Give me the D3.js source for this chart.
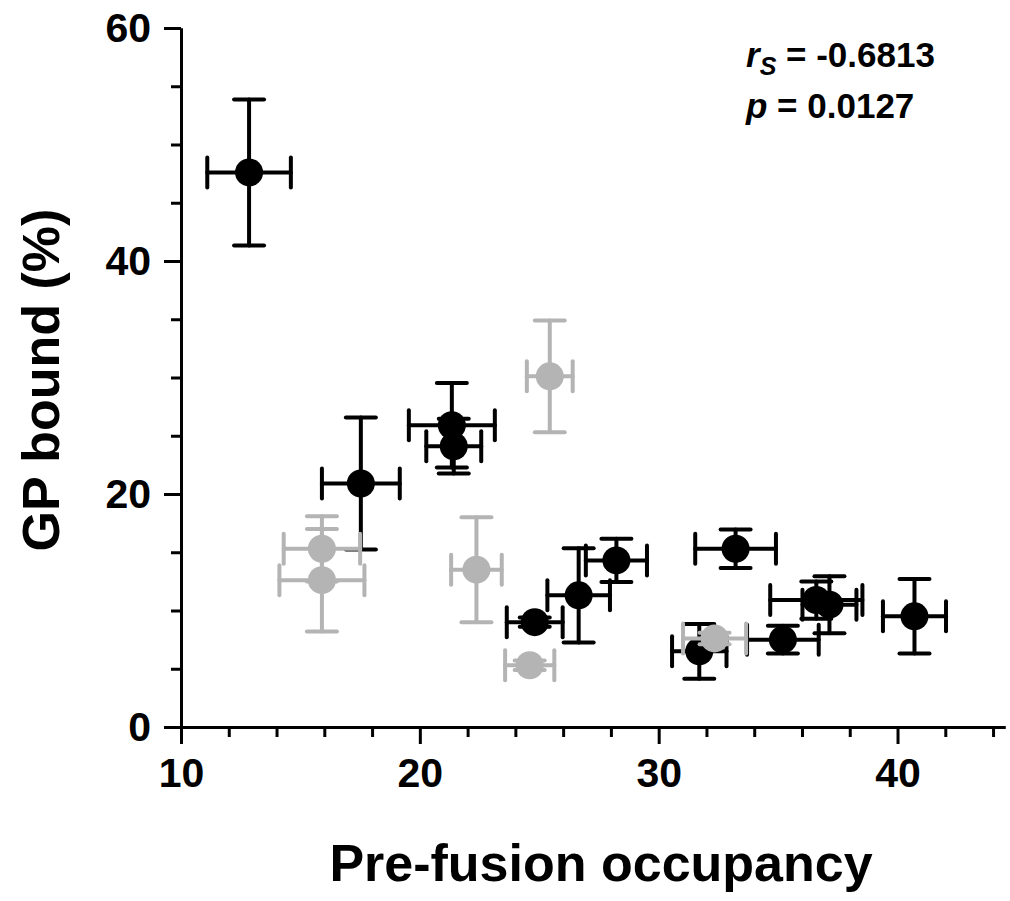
<!DOCTYPE html>
<html>
<head>
<meta charset="utf-8">
<script src="https://cdn.jsdelivr.net/npm/d3@7"></script>
<style>
  body { margin: 0; background: #fff; }
  text { font-family: "Liberation Sans", Arial, sans-serif; font-weight: bold; }
</style>
</head>
<body>
<script>
// data
var blackX    = [12.85, 17.53, 21.34, 21.42, 24.81, 26.65, 28.23, 31.70, 33.22, 35.20, 36.60, 37.15, 40.71];
var blackY    = [47.6, 20.9, 25.9, 24.1, 9.0, 11.3, 14.3, 6.5, 15.3, 7.5, 10.9, 10.5, 9.5];
var blackXErr = [1.75, 1.63, 1.80, 1.15, 1.17, 1.31, 1.28, 1.14, 1.69, 1.50, 1.93, 1.13, 1.32];
var blackYErr = [6.27, 5.67, 3.63, 2.35, 0.4, 4.05, 1.85, 2.35, 1.65, 1.2, 1.6, 2.45, 3.2];

var grayX    = [15.90, 15.90, 22.37, 24.60, 25.44, 32.34];
var grayY    = [15.3, 12.6, 13.5, 5.3, 30.1, 7.6];
var grayXErr = [1.6, 1.78, 1.06, 1.03, 0.96, 1.32];
var grayYErr = [2.8, 4.4, 4.5, 0.4, 4.8, 0.5];

var xMajor = [10, 20, 30, 40];
var xMinor = [12, 14, 16, 18, 22, 24, 26, 28, 32, 34, 36, 38, 42, 44];
var yMajor = [0, 20, 40, 60];
var yMinor = [5, 10, 15, 25, 30, 35, 45, 50, 55];

var width = 1010, height = 901;

var svg = d3.select("body").append("svg")
    .attr("width", width)
    .attr("height", height);

var x = d3.scaleLinear().domain([10, 44.5]).range([181, 1005]);
var y = d3.scaleLinear().domain([0, 60]).range([727, 28]);

//axes
function styleAxis(g) {
  g.select(".domain").attr("stroke", "#000").attr("stroke-width", 3);
  g.selectAll(".tick line").attr("stroke", "#000").attr("stroke-width", 3);
  g.selectAll(".tick text").attr("fill", "#000").style("font-size", "41px");
}

svg.append("g")
    .attr("transform", "translate(0,727)")
    .call(d3.axisBottom(x).tickValues(xMinor).tickSize(10).tickFormat("").tickSizeOuter(0))
    .call(styleAxis);
svg.append("g")
    .attr("transform", "translate(0,727)")
    .call(d3.axisBottom(x).tickValues(xMajor).tickSize(17).tickPadding(14).tickFormat(d3.format("d")).tickSizeOuter(0))
    .call(styleAxis);

svg.append("g")
    .attr("transform", "translate(181,0)")
    .call(d3.axisLeft(y).tickValues(yMinor).tickSize(10).tickFormat("").tickSizeOuter(0))
    .call(styleAxis);
svg.append("g")
    .attr("transform", "translate(181,0)")
    .call(d3.axisLeft(y).tickValues(yMajor).tickSize(17).tickPadding(13).tickFormat(d3.format("d")).tickSizeOuter(0))
    .call(styleAxis);

//axis titles
svg.append("text")
    .attr("x", 601).attr("y", 881)
    .attr("text-anchor", "middle")
    .style("font-size", "52px")
    .text("Pre-fusion occupancy");

svg.append("text")
    .attr("transform", "translate(59,380) rotate(-90)")
    .attr("text-anchor", "middle")
    .style("font-size", "52px")
    .text("GP bound (%)");

//stats
var stat1 = svg.append("text").attr("x", 746).attr("y", 67).style("font-size", "35px");
stat1.append("tspan").style("font-style", "italic").text("r");
stat1.append("tspan").style("font-style", "italic").style("font-size", "25px").attr("dy", 8).text("S");
stat1.append("tspan").attr("dy", -8).text(" = -0.6813");

var stat2 = svg.append("text").attr("x", 746).attr("y", 118).style("font-size", "35px");
stat2.append("tspan").style("font-style", "italic").text("p");
stat2.append("tspan").text(" = 0.0127");

//points with error bars
function makePoints(xs, ys, xe, ye, color) {
  return xs.map(function (d, i) {
    return { x: d, y: ys[i], xe: xe[i], ye: ye[i], color: color };
  });
}

var points = makePoints(blackX, blackY, blackXErr, blackYErr, "#000")
  .concat(makePoints(grayX, grayY, grayXErr, grayYErr, "#b4b4b4"));

var cap = 15;

var pt = svg.append("g").selectAll("g")
    .data(points)
    .enter()
    .append("g")
    .attr("stroke", function (d) { return d.color })
    .attr("fill", function (d) { return d.color })
    .attr("stroke-width", 4)
    .attr("stroke-linecap", "round");

pt.append("line")
    .attr("x1", function (d) { return x(d.x) }).attr("x2", function (d) { return x(d.x) })
    .attr("y1", function (d) { return y(d.y + d.ye) }).attr("y2", function (d) { return y(d.y - d.ye) });
pt.append("line")
    .attr("x1", function (d) { return x(d.x) - cap }).attr("x2", function (d) { return x(d.x) + cap })
    .attr("y1", function (d) { return y(d.y + d.ye) }).attr("y2", function (d) { return y(d.y + d.ye) });
pt.append("line")
    .attr("x1", function (d) { return x(d.x) - cap }).attr("x2", function (d) { return x(d.x) + cap })
    .attr("y1", function (d) { return y(d.y - d.ye) }).attr("y2", function (d) { return y(d.y - d.ye) });

pt.append("line")
    .attr("x1", function (d) { return x(d.x - d.xe) }).attr("x2", function (d) { return x(d.x + d.xe) })
    .attr("y1", function (d) { return y(d.y) }).attr("y2", function (d) { return y(d.y) });
pt.append("line")
    .attr("x1", function (d) { return x(d.x - d.xe) }).attr("x2", function (d) { return x(d.x - d.xe) })
    .attr("y1", function (d) { return y(d.y) - cap }).attr("y2", function (d) { return y(d.y) + cap });
pt.append("line")
    .attr("x1", function (d) { return x(d.x + d.xe) }).attr("x2", function (d) { return x(d.x + d.xe) })
    .attr("y1", function (d) { return y(d.y) - cap }).attr("y2", function (d) { return y(d.y) + cap });

pt.append("circle")
    .attr("cx", function (d) { return x(d.x) })
    .attr("cy", function (d) { return y(d.y) })
    .attr("r", 14)
    .attr("stroke", "none");
</script>
</body>
</html>
